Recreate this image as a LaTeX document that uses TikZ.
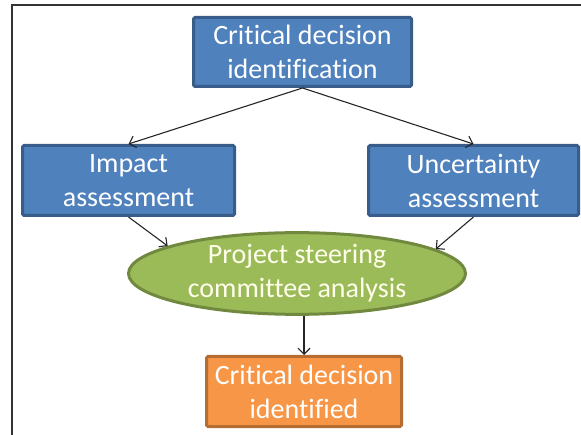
\documentclass[tikz,border=0pt]{standalone}
\usepackage{fontspec}
\setmainfont{Carlito}[RawFeature={-liga,-clig}]
\usepackage{tikz}
\usetikzlibrary{arrows.meta}
\definecolor{boxblue}{HTML}{4F81BD}
\definecolor{edgeblue}{HTML}{385D8A}
\definecolor{boxgreen}{HTML}{9BBB59}
\definecolor{edgegreen}{HTML}{71893F}
\definecolor{boxorange}{HTML}{F79646}
\definecolor{edgeorange}{HTML}{B66D31}
\tikzstyle{every node}=[font=\fontsize{28}{34}\selectfont, align=center, inner sep=0pt]
\tikzstyle{bluebox}=[draw=edgeblue, fill=boxblue, line width=3pt, rounded corners=1.5pt, text=white]
\tikzstyle{greenell}=[ellipse, draw=edgegreen, fill=boxgreen, line width=3pt, text={yellow!8!white}]
\tikzstyle{orangebox}=[draw=edgeorange, fill=boxorange, line width=3pt, rounded corners=1.5pt, text=white]
\tikzstyle{link}=[->, line width=1.1pt, black!85]
\usetikzlibrary{shapes.geometric}

\begin{document}
\begin{tikzpicture}[x=1pt, y=-1pt, >={Straight Barb[length=6pt,width=12pt]}]
            \useasboundingbox (0,0) rectangle (581,435);

            % frame
            \draw[line width=1.2pt, black!80] (12,440) -- (12,5) -- (590,5);

            \node[bluebox, minimum width=218pt, minimum height=69pt] (crit) at (302.5, 52) {Critical decision\\identification};
            \node[bluebox, minimum width=212pt, minimum height=70pt] (impact) at (128.5, 180.5) {Impact\\assessment};
            \node[bluebox, minimum width=210pt, minimum height=70pt] (uncert) at (473.5, 180.5) {Uncertainty\\assessment};
            \node[greenell, minimum width=337pt, minimum height=66pt] (steer) at (297, 273.5) {Project steering\\committee analysis};
            \node[orangebox, minimum width=195pt, minimum height=70pt] (ident) at (304, 391.5) {Critical decision\\identified};

            \draw[link] (crit.south) -- (impact.north);
            \draw[link] (crit.south) -- (uncert.north);
            \draw[link] (impact.south) -- (steer.168);
            \draw[link] (uncert.south) -- (steer.10);
            \draw[link] (steer.south -| ident.north) -- (ident.north);
        \end{tikzpicture}
\end{document}
